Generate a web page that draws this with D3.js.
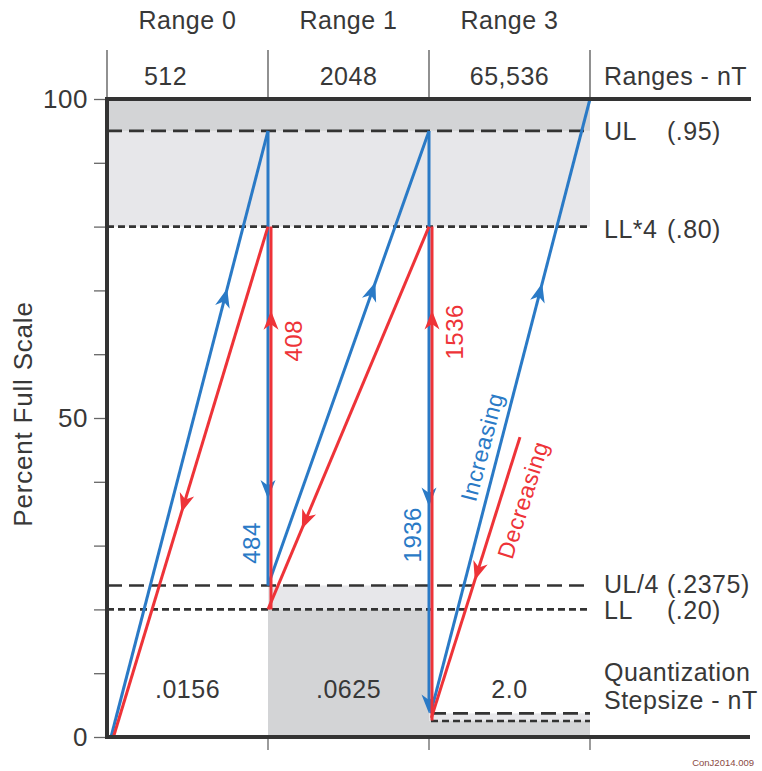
<!DOCTYPE html>
<html>
<head>
<meta charset="utf-8">
<script src="https://cdn.jsdelivr.net/npm/d3@7"></script>
<style>
  html, body { margin: 0; padding: 0; background: #fff; }
  svg { display: block; }
  text { font-family: "Liberation Sans", Arial, Helvetica, sans-serif; fill: #383838; letter-spacing: 0.5px; }
</style>
</head>
<body>
<svg id="chart" width="762" height="771"></svg>
<script>
// ---------- data ----------
const rangeNames   = ["Range 0", "Range 1", "Range 3"];
const rangeNT      = ["512", "2048", "65,536"];
const stepsizes    = [".0156", ".0625", "2.0"];
const yTickValues  = [0, 10, 20, 30, 40, 50, 60, 70, 80, 90, 100];
const yTickLabels  = [0, 50, 100];

// limit lines (percent of full scale)
const limitValues  = [95, 80, 23.75, 20];
const limitNames   = ["UL", "LL*4", "UL/4", "LL"];
const limitParens  = ["(.95)", "(.80)", "(.2375)", "(.20)"];
const limitStyle   = ["long", "short", "long", "short"];
// range-3 low limits
const lowValues    = [3.7, 2.5];
const lowStyle     = ["long", "short"];

// shaded bands
const bandX0 = [0, 0, 1, 1, 2, 2];
const bandX1 = [3, 3, 2, 2, 3, 3];
const bandY0 = [95, 80, 20, 0, 2.5, 0];
const bandY1 = [100, 95, 23.75, 20, 3.7, 2.5];
const bandTone = ["dark", "light", "light", "dark", "light", "dark"];

// blue (increasing) segments: [x (range units), percent]
const blueSegments = [
  [[0.025, 0], [1, 95]],
  [[1, 95], [1, 23.75]],
  [[1, 23.75], [2, 95]],
  [[2, 95], [2, 3.7]],
  [[2.01, 3.7], [3, 100]]
];
const blueArrows = [[0.74], [0.81], [0.667], [0.645, 1.0], [0.70]];

// red (decreasing) segments
const redSegments = [
  [[1, 80], [0.04, 0]],
  [[1, 20], [1, 80]],
  [[2, 80], [1, 20]],
  [[2, 2.6], [2, 80]],
  [[2.565, 47], [2.015, 3]]
];
const redArrows = [[0.56], [0.78], [0.79], [0.83], [0.51]];

// switch count labels
const countX     = [1, 1, 2, 2];
const countY     = [62.1, 30.4, 63.5, 31.7];
const countText  = ["408", "484", "1536", "1936"];
const countColor = ["red", "blue", "red", "blue"];

// ---------- drawing ----------
const svg = d3.select("#chart");
const BLUE = "#2a7ac6", RED = "#ee3338";
const DARK = "#d3d4d6", LIGHT = "#e7e7ea";
const x = d3.scaleLinear().domain([0, 3]).range([107, 590]);
const y = d3.scaleLinear().domain([0, 100]).range([737, 99]);

// bands
svg.append("g").selectAll("rect").data(bandX0.map((d, i) => i)).join("rect")
  .attr("x", i => x(bandX0[i]))
  .attr("y", i => y(bandY1[i]))
  .attr("width", i => x(bandX1[i]) - x(bandX0[i]))
  .attr("height", i => y(bandY0[i]) - y(bandY1[i]))
  .attr("fill", i => bandTone[i] === "dark" ? DARK : LIGHT);

// dashed limit lines
const dashes = { long: "15,7", short: "7,4" };
svg.append("g").selectAll("line").data(limitValues).join("line")
  .attr("x1", x(0)).attr("x2", x(3))
  .attr("y1", d => y(d)).attr("y2", d => y(d))
  .attr("stroke", "#333").attr("stroke-width", 2.6)
  .attr("stroke-dasharray", (d, i) => dashes[limitStyle[i]]);
svg.append("g").selectAll("line").data(lowValues).join("line")
  .attr("x1", x(2) + 2).attr("x2", x(3))
  .attr("y1", d => y(d)).attr("y2", d => y(d))
  .attr("stroke", "#333").attr("stroke-width", 2.6)
  .attr("stroke-dasharray", (d, i) => dashes[lowStyle[i]]);

// header vertical separators
svg.append("g").selectAll("line").data([0, 1, 2, 3]).join("line")
  .attr("x1", d => x(d)).attr("x2", d => x(d))
  .attr("y1", 50).attr("y2", y(100))
  .attr("stroke", "#555").attr("stroke-width", 1.3);
// bottom ticks
svg.append("g").selectAll("line").data([1, 2, 3]).join("line")
  .attr("x1", d => x(d)).attr("x2", d => x(d))
  .attr("y1", y(0)).attr("y2", y(0) + 13)
  .attr("stroke", "#666").attr("stroke-width", 1.3);

// coloured paths
function drawSegs(segs, arrows, color, offset, width) {
  const g = svg.append("g");
  segs.forEach((s, i) => {
    const vertical = s[0][0] === s[1][0];
    const dx = vertical ? offset : 0;
    const p0 = [x(s[0][0]) + dx, y(s[0][1])];
    const p1 = [x(s[1][0]) + dx, y(s[1][1])];
    const a = Math.atan2(p1[1] - p0[1], p1[0] - p0[0]);
    const ang = a * 180 / Math.PI;
    const isEndArrow = arrows[i].includes(1.0);
    const end = isEndArrow ? [p1[0] - Math.cos(a) * 10, p1[1] - Math.sin(a) * 10] : p1;
    g.append("line")
      .attr("x1", p0[0]).attr("y1", p0[1]).attr("x2", end[0]).attr("y2", end[1])
      .attr("stroke", color).attr("stroke-width", width);
    arrows[i].forEach(t => {
      const px = p0[0] + (p1[0] - p0[0]) * t;
      const py = p0[1] + (p1[1] - p0[1]) * t;
      g.append("path")
        .attr("d", "M0,0 L-19,-7.5 L-13.5,0 L-19,7.5 Z")
        .attr("transform", `translate(${px},${py}) rotate(${ang})`)
        .attr("fill", color);
    });
  });
}
drawSegs(blueSegments, blueArrows, BLUE, 0, 3);
drawSegs(redSegments, redArrows, RED, 3, 3);

// thick axis frame
svg.append("line").attr("x1", x(0)).attr("x2", 751).attr("y1", y(100)).attr("y2", y(100))
  .attr("stroke", "#333").attr("stroke-width", 4);
svg.append("line").attr("x1", x(0)).attr("x2", 750).attr("y1", y(0)).attr("y2", y(0))
  .attr("stroke", "#333").attr("stroke-width", 4);
svg.append("line").attr("x1", x(0)).attr("x2", x(0)).attr("y1", y(100) - 2).attr("y2", y(0) + 2)
  .attr("stroke", "#333").attr("stroke-width", 4);

// y axis ticks
const yAxis = d3.axisLeft(y).tickValues(yTickValues).tickSize(11).tickPadding(6)
  .tickFormat(d => yTickLabels.includes(d) ? d : "");
const ga = svg.append("g").attr("transform", `translate(${x(0) - 2},0)`).call(yAxis);
ga.select(".domain").remove();
ga.selectAll(".tick line").attr("stroke", "#666").attr("stroke-width", 1.3);
ga.selectAll(".tick text").attr("font-size", 26).attr("fill", "#383838")
  .style("font-family", '"Liberation Sans", Arial, sans-serif');

// y axis title
svg.append("text").attr("transform", "translate(32,414) rotate(-90)")
  .attr("text-anchor", "middle").attr("font-size", 26).style("letter-spacing", "0.8px")
  .text("Percent Full Scale");

// header texts
svg.append("g").selectAll("text").data(rangeNames).join("text")
  .attr("x", (d, i) => x(i + 0.5)).attr("y", 29)
  .attr("text-anchor", "middle").attr("font-size", 25).text(d => d);
const ntOffset = [-22, 0, 0];
svg.append("g").selectAll("text").data(rangeNT).join("text")
  .attr("x", (d, i) => x(i + 0.5) + ntOffset[i]).attr("y", 85)
  .attr("text-anchor", "middle").attr("font-size", 25).text(d => d);
svg.append("text").attr("x", 604).attr("y", 85).attr("font-size", 25).text("Ranges - nT");

// stepsize texts
svg.append("g").selectAll("text").data(stepsizes).join("text")
  .attr("x", (d, i) => x(i + 0.5)).attr("y", 698)
  .attr("text-anchor", "middle").attr("font-size", 25).text(d => d);
svg.append("text").attr("x", 604).attr("y", 681).attr("font-size", 25).text("Quantization");
svg.append("text").attr("x", 604).attr("y", 709).attr("font-size", 25).text("Stepsize - nT");

// limit labels
const labelNudge = [0, 2, -1, 1];
svg.append("g").selectAll("text").data(limitNames).join("text")
  .attr("x", 604).attr("y", (d, i) => y(limitValues[i]) + 9 + labelNudge[i])
  .attr("font-size", 25).text(d => d);
svg.append("g").selectAll("text").data(limitParens).join("text")
  .attr("x", 667).attr("y", (d, i) => y(limitValues[i]) + 9 + labelNudge[i])
  .attr("font-size", 25).text(d => d);

// count labels (baseline to the right of the glyphs after rotation)
svg.append("g").selectAll("text").data(countText).join("text")
  .attr("transform", (d, i) => `translate(${x(countX[i]) + (countColor[i] === "red" ? 34 : -8)},${y(countY[i])}) rotate(-90)`)
  .attr("text-anchor", "middle").attr("font-size", 24)
  .style("fill", (d, i) => countColor[i] === "red" ? RED : BLUE)
  .text(d => d);

// direction labels
svg.append("text").attr("transform", "translate(482,447) rotate(-75.4)")
  .attr("text-anchor", "middle").attr("dy", "0.35em").attr("font-size", 23)
  .style("fill", BLUE).text("Increasing");
svg.append("text").attr("transform", "translate(523,500) rotate(-72.4)")
  .attr("text-anchor", "middle").attr("dy", "0.35em").attr("font-size", 23)
  .style("fill", RED).text("Decreasing");

// credit
svg.append("text").attr("x", 754).attr("y", 766).attr("text-anchor", "end")
  .attr("font-size", 9.5).style("letter-spacing", "0px").style("fill", "#8a4a44").text("ConJ2014.009");
</script>
</body>
</html>
